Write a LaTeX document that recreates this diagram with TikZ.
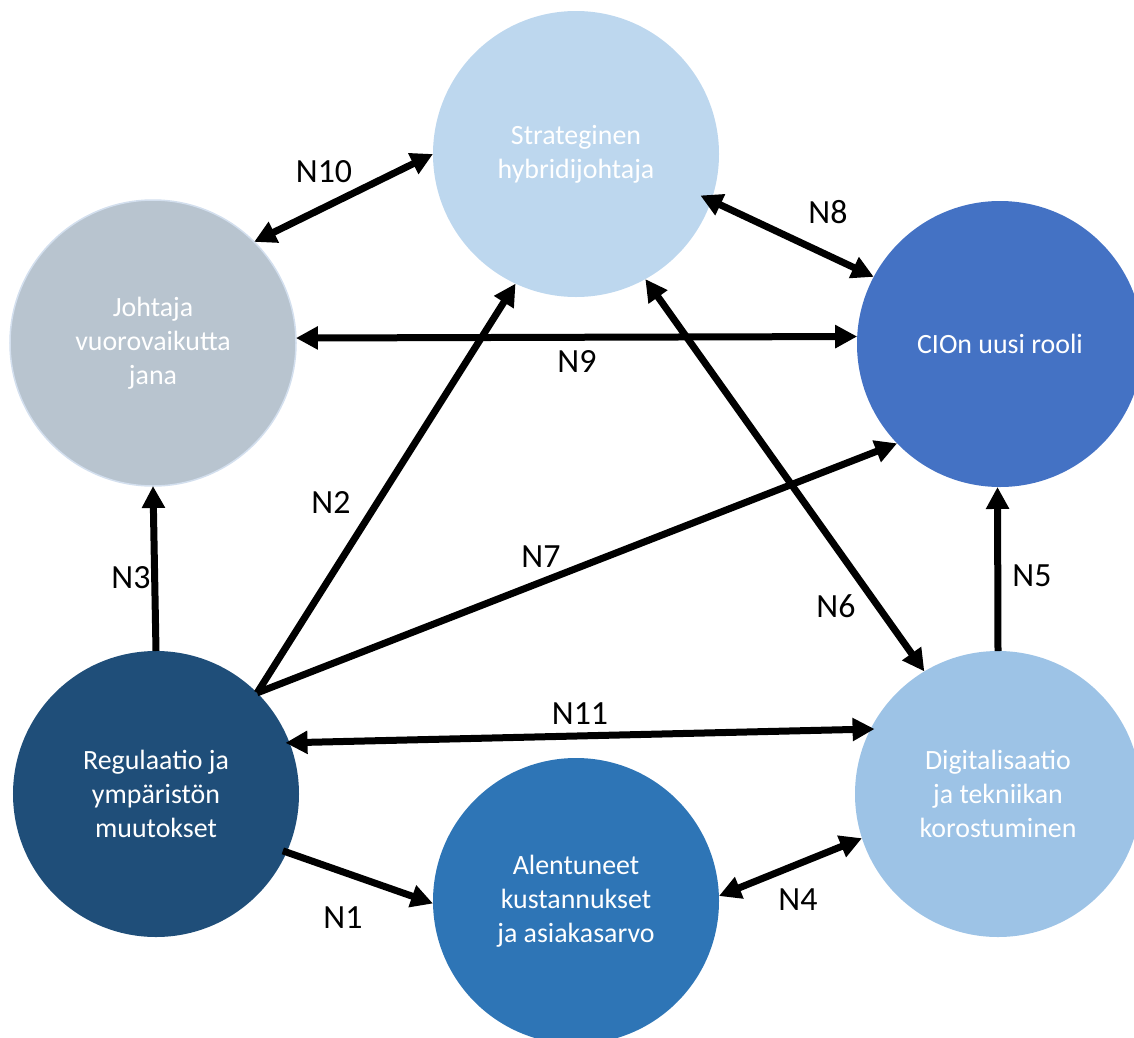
\documentclass[tikz,border=0pt]{standalone}
\usepackage{fontspec}
\setmainfont{Carlito}
\usetikzlibrary{arrows.meta}
\definecolor{cStrat}{HTML}{BDD7EE}
\definecolor{cJoh}{HTML}{B8C4CF}
\definecolor{cJohB}{HTML}{D3DFEE}
\definecolor{cCio}{HTML}{4472C4}
\definecolor{cReg}{HTML}{1F4E79}
\definecolor{cAle}{HTML}{2E75B6}
\definecolor{cDig}{HTML}{9DC3E6}
\begin{document}
\begin{tikzpicture}[x=1bp,y=-1bp,
  bubble/.style={circle, minimum size=286bp, inner sep=0pt, outer sep=0pt, text=white, align=center, font=\fontsize{28}{34}\selectfont},
  lbl/.style={font=\fontsize{34}{40}\selectfont, text=black, inner sep=0pt},
  tipA/.tip={Triangle[length=22bp,width=22bp]},
  link/.style={line width=7bp, draw=black, -tipA},
  dlink/.style={line width=7bp, draw=black, tipA-tipA},
]
\useasboundingbox (0,0) rectangle (1134,1038);
\clip (0,0) rectangle (1134,1038);

\node[bubble, fill=cStrat] (strat) at (576,154) {Strateginen\\hybridijohtaja};
\node[bubble, fill=cJoh, draw=cJohB, line width=1.5bp] (joh) at (153,343) {Johtaja\\vuorovaikutta\\jana};
\node[bubble, fill=cCio] (cio) at (1000,344) {CIOn uusi rooli};
\node[bubble, fill=cReg] (reg) at (156,794) {Regulaatio ja\\ympäristön\\muutokset};
\node[bubble, fill=cAle] (ale) at (576,901) {Alentuneet\\kustannukset\\ja asiakasarvo};
\node[bubble, fill=cDig] (dig) at (998,794) {Digitalisaatio\\ja tekniikan\\korostuminen};

% connectors
\draw[dlink] (joh.45) -- (strat.180);
\draw[dlink, shorten <=-12bp] (strat.-19.5) -- (cio.152.5);
\draw[dlink] (joh.2.4) -- (cio.177.2);
\draw[link] (reg.45.8) -- (strat.245.9);
\draw[link] (reg.45.8) -- (cio.224.1);
\draw[dlink] (strat.-61.3) -- (dig.121.9);
\draw[link] (reg.90) -- (joh.-90);
\draw[link] (dig.90) -- (cio.-91.6);
\draw[dlink, shorten <=-4bp, shorten >=-4bp] (reg.21.2) -- (dig.153.4);
\draw[dlink] (ale.2.4) -- (dig.-162.6);
\draw[link, shorten <=-4bp] (reg.-24.3) -- (ale.181.2);

% labels
\node[lbl] (l10) at (324,172) {N10};
\node[lbl] (l8) at (828,212) {N8};
\node[lbl] (l9) at (577,362) {N9};
\node[lbl] (l2) at (331,503) {N2};
\node[lbl] (l7) at (541,557) {N7};
\node[lbl] (l6) at (836,606) {N6};
\node[lbl] (l3) at (131,578) {N3};
\node[lbl] (l5) at (1032,576) {N5};
\node[lbl] (l11) at (580,714) {N11};
\node[lbl] (l4) at (798,900) {N4};
\node[lbl] (l1) at (343,918) {N1};
\end{tikzpicture}
\end{document}
